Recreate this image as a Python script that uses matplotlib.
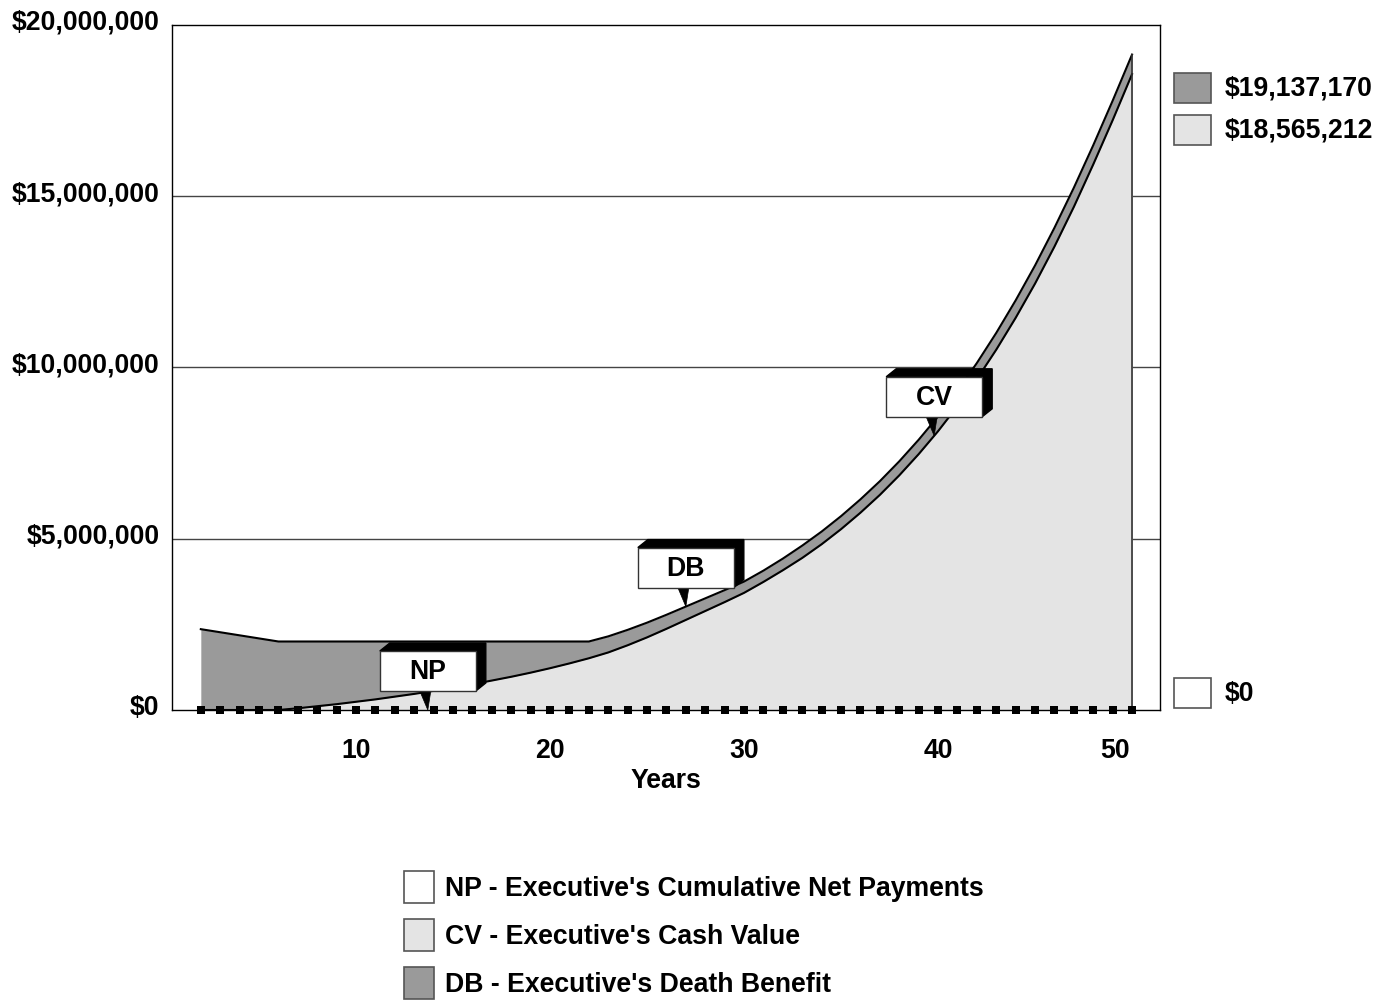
import numpy as np
import matplotlib
matplotlib.use("Agg")
import matplotlib.pyplot as plt
from matplotlib.patches import Rectangle, Polygon
from matplotlib.transforms import IdentityTransform, ScaledTranslation

plt.rcParams['font.family'] = ['Liberation Sans', 'DejaVu Sans']
plt.rcParams['font.weight'] = 'bold'

# policy years and values (millions of dollars)
years = list(range(2, 51))
death_benefit_m = [2.36, 2.27, 2.18, 2.09, 2.00,
                   2.00, 2.00, 2.00, 2.00, 2.00, 2.00, 2.00, 2.00,
                   2.00, 2.00, 2.00, 2.00, 2.00, 2.00, 2.00, 2.00,
                   2.15, 2.34, 2.55, 2.78, 3.02, 3.26, 3.50, 3.75,
                   4.07, 4.42, 4.80, 5.21, 5.66, 6.15, 6.68, 7.26,
                   7.89, 8.57, 9.32, 10.13, 11.01, 11.96, 12.98, 14.08,
                   15.25, 16.49, 17.79, 19.137170]
cash_value_m = [0.0, 0.0, 0.0, 0.0, 0.0,
                0.05, 0.11, 0.17, 0.24, 0.31, 0.39, 0.47, 0.56,
                0.65, 0.75, 0.86, 0.97, 1.09, 1.22, 1.36, 1.51,
                1.68, 1.89, 2.12, 2.37, 2.63, 2.89, 3.15, 3.42,
                3.74, 4.08, 4.44, 4.84, 5.28, 5.76, 6.28, 6.85,
                7.47, 8.14, 8.87, 9.66, 10.52, 11.45, 12.45, 13.53,
                14.69, 15.93, 17.22, 18.565212]
net_payments_m = [0.0] * len(years)

end_values = [19137170, 18565212, 0]
y_ticks = [0, 5e6, 10e6, 15e6, 20e6]
x_ticks = [10, 20, 30, 40, 50]

legend_labels = ["NP - Executive's Cumulative Net Payments",
                 "CV - Executive's Cash Value",
                 "DB - Executive's Death Benefit"]
callout_names = ['NP', 'DB', 'CV']
callout_years = [13.7, 27.0, 39.8]

DB_GRAY = '#9a9a9a'
CV_GRAY = '#e4e4e4'
FS = 19.2

x = np.array(years)
db = np.array(death_benefit_m) * 1e6
cv = np.array(cash_value_m) * 1e6
npay = np.array(net_payments_m) * 1e6

W, H = 1392, 1000
fig = plt.figure(figsize=(W / 100, H / 100), dpi=100)
ax = fig.add_axes([172 / W, 290 / H, 988 / W, 685 / H])
ax.set_xlim(0.515, 51.44)
ax.set_ylim(0, 20e6)

for v in y_ticks[1:-1]:
    ax.axhline(v, color='#444444', lw=1, zorder=0.5)

ax.fill_between(x, 0, db, color=DB_GRAY, lw=0, zorder=1)
ax.fill_between(x, 0, cv, color=CV_GRAY, lw=0, zorder=1.1)
ax.plot(x, db, color='k', lw=1.5, zorder=2)
ax.plot(x, cv, color='k', lw=1.5, zorder=2)
ax.plot([x[-1], x[-1]], [0, db[-1]], color='#333333', lw=1.2, zorder=2)
ax.plot(x, npay, 's', color='k', ms=5.4, mew=0, zorder=3, clip_on=False)

for s in ax.spines.values():
    s.set_color('k')
    s.set_linewidth(1)
    s.set_zorder(4)

ax.set_yticks(y_ticks)
ax.set_yticklabels([f'${v:,.0f}' for v in y_ticks])
ax.set_xticks(x_ticks)
ax.set_xticklabels([str(v) for v in x_ticks])
ax.tick_params(length=0, labelsize=FS)
ax.tick_params(axis='y', pad=9)
ax.tick_params(axis='x', pad=20)
for lab in ax.get_yticklabels():
    lab.set_transform(lab.get_transform() + ScaledTranslation(0, 0.05, fig.dpi_scale_trans))
last = ax.get_xticklabels()[-1]
last.set_transform(last.get_transform() + ScaledTranslation(-0.17, 0, fig.dpi_scale_trans))
ax.set_xlabel('Years', fontsize=FS, fontweight='bold', labelpad=3)


def callout(name, yr, series):
    val = np.interp(yr, x, series)
    tx, ty = ax.transData.transform((yr, val))
    w, h, gap, dx, dy = 96, 40, 19, 10, 8
    x0, x1 = tx - w / 2, tx + w / 2
    y0 = ty + gap
    y1 = y0 + h
    idt = IdentityTransform()
    shadow = Polygon([(x0, y1), (x0 + dx, y1 + dy), (x1 + dx, y1 + dy),
                      (x1 + dx, y0 + dy), (x1, y0), (x1, y1)],
                     closed=True, fc='k', ec='k', lw=1, transform=idt, zorder=6)
    face = Rectangle((x0, y0), w, h, fc='white', ec='#333333', lw=1,
                     transform=idt, zorder=7)
    pointer = Polygon([(tx - 8, y0), (tx + 3, y0), (tx, ty)], closed=True,
                      fc='k', ec='k', lw=0.5, transform=idt, zorder=6)
    for p in (shadow, pointer, face):
        fig.add_artist(p)
    fig.text(tx, y0 + h / 2 - 1, name, transform=idt, ha='center', va='center',
             fontsize=FS, fontweight='bold', zorder=8)


series_for = {'NP': npay, 'DB': db, 'CV': cv}
for name, yr in zip(callout_names, callout_years):
    callout(name, yr, series_for[name])


def px_rect(left, top, w, h, color):
    r = Rectangle((left / W, 1 - (top + h) / H), w / W, h / H, fc=color,
                  ec='#555555', lw=1.2, transform=fig.transFigure)
    fig.add_artist(r)


# end-of-period values beside the plot
right_colors = [DB_GRAY, CV_GRAY, 'white']
right_tops = [73, 115, 678]
for val, col, top in zip(end_values, right_colors, right_tops):
    px_rect(1174, top, 37, 30, col)
    fig.text(1225 / W, 1 - (top + 16) / H, f'${val:,.0f}', ha='left', va='center',
             fontsize=FS, fontweight='bold')

# series key under the plot
key_colors = ['white', CV_GRAY, DB_GRAY]
key_tops = [871, 919, 967]
for lab, col, top in zip(legend_labels, key_colors, key_tops):
    px_rect(404, top, 30, 32, col)
    fig.text(445 / W, 1 - (top + 18) / H, lab, ha='left', va='center',
             fontsize=FS, fontweight='bold')

fig.savefig('out.png', dpi=100)
